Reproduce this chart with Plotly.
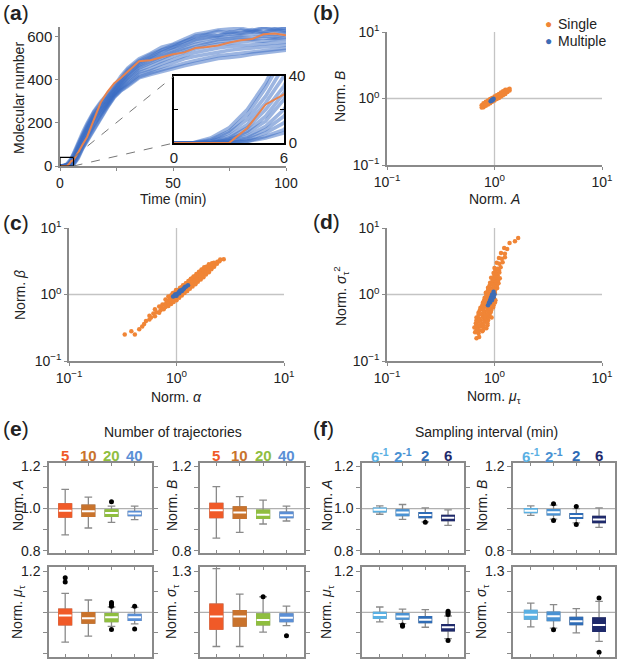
import plotly.graph_objects as go

W, H = 617, 660

# ---------------- (a) trajectories ----------------
time_min = [0, 1, 2, 3, 4, 5, 6, 7, 8, 10, 12, 15, 18, 21, 24, 27, 30, 35, 40, 45,
            50, 55, 60, 65, 70, 75, 80, 85, 90, 95, 100]
multiple_trajs = [
    [0, 0, 3, 9, 20, 36, 58, 84, 108, 156, 198, 255, 298, 334, 372, 418, 455, 498, 522, 552, 566, 590, 612, 622, 632, 636, 640, 628, 645, 638, 644],
    [0, 0, 2, 7, 17, 33, 52, 76, 100, 150, 190, 250, 292, 326, 365, 410, 448, 490, 518, 540, 562, 578, 604, 612, 626, 618, 632, 624, 640, 630, 642],
    [0, 0, 1, 6, 14, 28, 46, 70, 95, 144, 184, 242, 284, 320, 360, 402, 440, 484, 506, 538, 552, 580, 592, 608, 606, 624, 618, 634, 622, 636, 626],
    [0, 0, 1, 4, 11, 24, 40, 63, 88, 136, 176, 236, 276, 314, 355, 395, 430, 478, 505, 528, 550, 566, 588, 598, 606, 612, 615, 624, 620, 626, 628],
    [0, 0, 0, 3, 9, 20, 34, 57, 80, 128, 168, 228, 270, 308, 348, 388, 425, 470, 498, 518, 540, 560, 578, 590, 596, 602, 610, 612, 615, 610, 620],
    [0, 0, 0, 2, 7, 16, 30, 50, 72, 120, 160, 220, 262, 302, 345, 380, 415, 462, 488, 510, 530, 550, 566, 575, 588, 592, 598, 596, 604, 600, 610],
    [0, 0, 0, 2, 6, 13, 26, 45, 68, 115, 154, 214, 258, 298, 340, 375, 410, 455, 478, 502, 522, 540, 556, 568, 578, 585, 590, 588, 595, 592, 598],
    [0, 0, 0, 1, 4, 10, 20, 38, 60, 106, 146, 205, 250, 292, 335, 368, 400, 444, 466, 490, 510, 528, 545, 556, 566, 570, 578, 582, 580, 588, 590],
    [0, 0, 0, 1, 3, 8, 16, 32, 54, 98, 136, 195, 242, 286, 330, 362, 392, 435, 452, 475, 495, 512, 528, 540, 548, 555, 560, 566, 570, 572, 575],
    [0, 0, 0, 0, 2, 6, 12, 26, 46, 92, 128, 186, 236, 282, 325, 357, 384, 426, 442, 462, 482, 498, 510, 520, 530, 538, 544, 550, 556, 558, 562],
    [0, 0, 0, 0, 1, 4, 8, 21, 40, 85, 120, 176, 228, 276, 322, 352, 376, 415, 432, 448, 465, 478, 490, 502, 512, 518, 524, 532, 540, 545, 548],
    [0, 0, 0, 0, 1, 3, 6, 18, 35, 80, 115, 170, 222, 272, 318, 350, 370, 410, 425, 440, 455, 466, 478, 490, 500, 505, 510, 520, 526, 532, 538],
]
single_traj = [0, 0, 0, 0, 9, 23, 29, 45, 62, 100, 135, 215, 295, 345, 385, 410, 440, 487, 492, 505,
               519, 528, 548, 553, 560, 574, 584, 590, 612, 616, 608]

# ---------------- (b)-(d) scatter clouds (x, y) ----------------
b_single_x = [0.76, 0.76, 0.79, 0.79, 0.79, 0.83, 0.83, 0.83, 0.87, 0.87, 0.87, 0.91, 0.91, 0.91,
              0.95, 0.95, 0.95, 1.00, 1.00, 1.00, 1.05, 1.05, 1.05, 1.10, 1.10, 1.10, 1.15, 1.15,
              1.15, 1.20, 1.20, 1.20, 1.26, 1.26, 1.26, 1.32, 1.32, 1.38, 1.38]
b_single_y = [0.73, 0.79, 0.74, 0.79, 0.85, 0.78, 0.83, 0.89, 0.81, 0.87, 0.93, 0.85, 0.91, 0.98,
              0.89, 0.95, 1.02, 0.93, 1.00, 1.07, 0.98, 1.05, 1.12, 1.02, 1.10, 1.17, 1.07, 1.15,
              1.23, 1.12, 1.20, 1.29, 1.17, 1.26, 1.35, 1.25, 1.35, 1.32, 1.40]
b_multi_x = [0.92, 0.94, 0.95, 0.97, 0.96, 0.98]
b_multi_y = [0.91, 0.93, 0.96, 0.97, 0.94, 0.99]

c_single_pts = [
    (0.33, 0.25), (0.38, 0.28), (0.41, 0.25), (0.45, 0.30), (0.48, 0.33),
    (0.50, 0.36), (0.52, 0.40),
    (0.56, 0.42), (0.58, 0.45), (0.56, 0.48),
    (0.63, 0.47), (0.61, 0.52), (0.65, 0.54), (0.63, 0.60),
    (0.69, 0.53), (0.71, 0.58), (0.73, 0.63), (0.69, 0.66), (0.74, 0.71),
    (0.76, 0.60), (0.79, 0.65), (0.78, 0.71), (0.81, 0.76), (0.79, 0.84),
    (0.84, 0.67), (0.85, 0.73), (0.83, 0.79), (0.86, 0.85), (0.84, 0.93),
    (0.89, 0.72), (0.90, 0.78), (0.88, 0.84), (0.91, 0.90), (0.89, 0.97), (0.92, 1.04),
    (0.94, 0.77), (0.95, 0.84), (0.94, 0.91), (0.96, 0.98), (0.94, 1.06),
    (1.00, 0.82), (0.99, 0.89), (1.01, 0.95), (1.00, 1.02), (1.02, 1.10), (0.99, 1.17),
    (1.06, 0.89), (1.05, 0.96), (1.07, 1.03), (1.06, 1.10), (1.05, 1.18), (1.08, 1.26),
    (1.12, 0.97), (1.13, 1.05), (1.11, 1.12), (1.14, 1.20), (1.12, 1.29), (1.15, 1.38),
    (1.19, 1.05), (1.20, 1.13), (1.18, 1.21), (1.21, 1.29), (1.19, 1.38), (1.22, 1.48),
    (1.26, 1.13), (1.27, 1.21), (1.25, 1.30), (1.28, 1.39), (1.26, 1.49), (1.29, 1.59),
    (1.33, 1.22), (1.34, 1.31), (1.32, 1.41), (1.35, 1.51), (1.33, 1.62), (1.36, 1.73),
    (1.41, 1.32), (1.42, 1.42), (1.40, 1.52), (1.43, 1.63), (1.41, 1.75), (1.44, 1.87),
    (1.50, 1.43), (1.51, 1.54), (1.49, 1.65), (1.52, 1.77), (1.50, 1.90), (1.53, 2.03),
    (1.58, 1.55), (1.60, 1.66), (1.57, 1.78), (1.61, 1.91), (1.59, 2.05), (1.62, 2.19),
    (1.68, 1.68), (1.69, 1.80), (1.67, 1.93), (1.70, 2.07), (1.68, 2.22), (1.71, 2.37),
    (1.78, 1.82), (1.79, 1.95), (1.77, 2.09), (1.80, 2.24), (1.78, 2.40), (1.81, 2.56),
    (1.88, 2.00), (1.90, 2.14), (1.87, 2.29), (1.91, 2.45), (1.89, 2.62),
    (2.00, 2.17), (2.01, 2.32), (1.98, 2.48), (2.02, 2.66), (2.00, 2.85),
    (2.11, 2.40), (2.13, 2.57), (2.10, 2.75), (2.14, 2.95),
    (2.24, 2.62), (2.26, 2.81), (2.23, 3.00), (2.38, 2.90), (2.40, 3.10),
    (2.51, 3.16), (2.55, 3.35), (2.75, 3.40),
]
c_multi_pts = [
    (0.93, 0.93), (0.96, 0.96), (0.97, 1.00), (0.99, 1.00), (1.00, 0.96), (1.02, 1.03),
    (1.05, 1.08), (1.06, 1.04), (1.08, 1.15), (1.09, 1.13), (1.12, 1.13), (1.13, 1.18),
    (1.16, 1.20), (1.18, 1.25), (1.20, 1.30), (1.23, 1.32), (1.28, 1.38),
]
d_single_pts = [
    (0.68, 0.22), (0.72, 0.23),
    (0.66, 0.27), (0.71, 0.26), (0.77, 0.28),
    (0.68, 0.29), (0.72, 0.29), (0.78, 0.29),
    (0.65, 0.32), (0.69, 0.31), (0.74, 0.33), (0.79, 0.32), (0.84, 0.31),
    (0.68, 0.345), (0.73, 0.345), (0.79, 0.345), (0.86, 0.345),
    (0.67, 0.37), (0.71, 0.39), (0.76, 0.36), (0.81, 0.39), (0.86, 0.37),
    (0.68, 0.41), (0.74, 0.41), (0.80, 0.41), (0.87, 0.41),
    (0.68, 0.45), (0.72, 0.43), (0.78, 0.46), (0.83, 0.44), (0.88, 0.46), (0.94, 0.45),
    (0.71, 0.49), (0.77, 0.49), (0.83, 0.49), (0.90, 0.49),
    (0.71, 0.53), (0.76, 0.51), (0.81, 0.55), (0.87, 0.52), (0.92, 0.54),
    (0.73, 0.58), (0.79, 0.58), (0.86, 0.58), (0.93, 0.58),
    (0.74, 0.63), (0.79, 0.61), (0.85, 0.65), (0.91, 0.62), (0.97, 0.64),
    (0.77, 0.69), (0.83, 0.69), (0.90, 0.69), (0.98, 0.69),
    (0.78, 0.75), (0.83, 0.75), (0.89, 0.77), (0.95, 0.74), (1.01, 0.76),
    (0.80, 0.82), (0.87, 0.82), (0.94, 0.82), (1.02, 0.82),
    (0.81, 0.89), (0.87, 0.89), (0.93, 0.91), (0.99, 0.88),
    (0.84, 0.97), (0.90, 0.97), (0.98, 0.97),
    (0.83, 1.06), (0.89, 1.03), (0.95, 1.08), (1.01, 1.05),
    (0.87, 1.16), (0.93, 1.16), (1.01, 1.16),
    (0.87, 1.26), (0.93, 1.22), (0.99, 1.29), (1.06, 1.25),
    (0.90, 1.37), (0.97, 1.37), (1.05, 1.37),
    (0.91, 1.50), (0.97, 1.45), (1.03, 1.53), (1.09, 1.48),
    (0.96, 1.63), (1.02, 1.63), (1.08, 1.63),
    (0.93, 1.78), (0.99, 1.73), (1.06, 1.81), (1.12, 1.76),
    (1.00, 1.94), (1.07, 1.94),
    (0.98, 2.11), (1.04, 2.06), (1.11, 2.15),
    (1.02, 2.30), (1.10, 2.30),
    (1.00, 2.51), (1.07, 2.44), (1.14, 2.56),
    (1.05, 2.99), (1.11, 2.90), (1.19, 3.05),
    (1.10, 3.55), (1.17, 3.45), (1.25, 3.62),
    (1.15, 4.22), (1.25, 4.10),
    (1.23, 5.01), (1.31, 4.85),
    (1.38, 5.96), (1.55, 6.30), (1.66, 7.08),
]
d_multi_pts = [
    (0.87, 0.69), (0.89, 0.76), (0.91, 0.76), (0.91, 0.83), (0.95, 0.83),
    (0.93, 0.91), (0.98, 0.91), (0.95, 1.00), (1.00, 1.00), (0.98, 1.10),
]

# ---------------- (e) number of trajectories: box stats ----------------
e_cats = ["5", "10", "20", "40"]
e_colors = ["#f05a28", "#c9732c", "#8fbe3f", "#5a8fd6"]
eA = dict(q1=[0.960, 0.963, 0.963, 0.967], med=[0.990, 0.987, 0.979, 0.976],
          q3=[1.022, 1.016, 0.994, 0.986], lo=[0.876, 0.908, 0.935, 0.948],
          hi=[1.090, 1.054, 1.011, 1.011], ox=[3], oy=[1.032])
eB = dict(q1=[0.957, 0.954, 0.954, 0.957], med=[0.992, 0.981, 0.971, 0.968],
          q3=[1.024, 1.008, 0.992, 0.983], lo=[0.860, 0.887, 0.927, 0.941],
          hi=[1.103, 1.056, 1.040, 1.011], ox=[], oy=[])
eMu = dict(q1=[0.939, 0.947, 0.955, 0.961], med=[0.984, 0.971, 0.976, 0.976],
           q3=[1.016, 0.998, 0.994, 0.990], lo=[0.855, 0.884, 0.931, 0.944],
           hi=[1.092, 1.060, 1.026, 1.024],
           ox=[1, 1, 3, 3, 3, 3, 4, 4], oy=[1.168, 1.148, 1.048, 1.039, 1.030, 0.916, 1.029, 0.918])
eSig = dict(q1=[0.877, 0.900, 0.908, 0.932], med=[0.969, 0.969, 0.944, 0.961],
            q3=[1.060, 1.012, 0.988, 0.988], lo=[0.750, 0.750, 0.855, 0.903],
            hi=[1.320, 1.133, 1.114, 1.046], ox=[1, 3, 4], oy=[1.345, 1.114, 0.828])

# ---------------- (f) sampling interval: box stats ----------------
f_cats = ["6<sup>-1</sup>", "2<sup>-1</sup>", "2", "6"]
f_colors = ["#5ab0e3", "#4a92d3", "#2f6cb6", "#1f2a6b"]
fA = dict(q1=[0.984, 0.967, 0.957, 0.943], med=[0.994, 0.981, 0.970, 0.956],
          q3=[1.002, 0.994, 0.981, 0.968], lo=[0.973, 0.949, 0.937, 0.920],
          hi=[1.013, 1.019, 1.003, 0.994], ox=[3], oy=[0.935])
fB = dict(q1=[0.981, 0.970, 0.954, 0.933], med=[0.990, 0.983, 0.965, 0.948],
          q3=[1.000, 0.995, 0.976, 0.963], lo=[0.968, 0.950, 0.932, 0.911],
          hi=[1.013, 1.016, 1.000, 1.003], ox=[2, 2, 3, 3], oy=[1.022, 0.944, 1.010, 0.925])
fMu = dict(q1=[0.971, 0.967, 0.950, 0.910], med=[0.987, 0.980, 0.964, 0.927],
           q3=[1.000, 0.993, 0.979, 0.940], lo=[0.953, 0.945, 0.927, 0.872],
           hi=[1.026, 1.016, 1.013, 0.982],
           ox=[2, 2, 4, 4, 4, 4], oy=[0.938, 0.932, 1.005, 0.997, 0.989, 0.862])
fSig = dict(q1=[0.951, 0.939, 0.910, 0.861], med=[0.983, 0.971, 0.934, 0.907],
            q3=[1.015, 1.002, 0.963, 0.959], lo=[0.893, 0.885, 0.849, 0.788],
            hi=[1.068, 1.056, 1.027, 1.080], ox=[2, 4, 4], oy=[0.873, 1.105, 0.707])

# ---------------- styling ----------------
TXT = "#222222"
AX = "#8a8a8a"
ORANGE = "#f08536"
BLUE = "#3d6cb5"
FONT = "Liberation Sans, Arial, Helvetica, sans-serif"


def xd(l, r):
    return [l / W, r / W]


def yd(top, bottom):
    return [1 - bottom / H, 1 - top / H]


fig = go.Figure()

# (a) main + inset
for tr in multiple_trajs:
    for xa, ya in (("x", "y"), ("x2", "y2")):
        fig.add_trace(go.Scatter(x=time_min, y=tr, mode="lines", xaxis=xa, yaxis=ya,
                                 line=dict(color="rgba(58,108,196,0.5)", width=3.6),
                                 showlegend=False, hoverinfo="skip"))
for xa, ya in (("x", "y"), ("x2", "y2")):
    fig.add_trace(go.Scatter(x=time_min, y=single_traj, mode="lines", xaxis=xa, yaxis=ya,
                             line=dict(color="#e8834e", width=2), showlegend=False, hoverinfo="skip"))


def scat(pts_x, pts_y, xa, ya, color, size):
    fig.add_trace(go.Scatter(x=pts_x, y=pts_y, mode="markers", xaxis=xa, yaxis=ya,
                             marker=dict(color=color, size=size, line=dict(width=0)),
                             showlegend=False, hoverinfo="skip"))


scat(b_single_x, b_single_y, "x3", "y3", ORANGE, 4.5)
scat(b_multi_x, b_multi_y, "x3", "y3", BLUE, 4.5)
scat([p[0] for p in c_single_pts], [p[1] for p in c_single_pts], "x4", "y4", ORANGE, 4.5)
scat([p[0] for p in c_multi_pts], [p[1] for p in c_multi_pts], "x4", "y4", BLUE, 4.5)
scat([p[0] for p in d_single_pts], [p[1] for p in d_single_pts], "x5", "y5", ORANGE, 4.5)
scat([p[0] for p in d_multi_pts], [p[1] for p in d_multi_pts], "x5", "y5", BLUE, 4.5)


def box_panel(xa, ya, st, colors):
    for i in range(4):
        pos = [i + 1]
        fig.add_trace(go.Box(x=pos, q1=[st["q1"][i]], median=[st["med"][i]], q3=[st["q3"][i]],
                             lowerfence=[st["lo"][i]], upperfence=[st["hi"][i]],
                             width=0.55, whiskerwidth=0.6, fillcolor=colors[i],
                             line=dict(color="#8a8a8a", width=1.3), boxpoints=False,
                             xaxis=xa, yaxis=ya, showlegend=False, hoverinfo="skip"))
        fig.add_trace(go.Box(x=pos, q1=[st["q1"][i]], median=[st["q1"][i]], q3=[st["q3"][i]],
                             lowerfence=[st["q1"][i]], upperfence=[st["q3"][i]],
                             width=0.55, whiskerwidth=0, fillcolor=colors[i],
                             line=dict(color=colors[i], width=1.3), boxpoints=False,
                             xaxis=xa, yaxis=ya, showlegend=False, hoverinfo="skip"))
        fig.add_trace(go.Box(x=pos, q1=[st["med"][i]], median=[st["med"][i]], q3=[st["med"][i]],
                             lowerfence=[st["med"][i]], upperfence=[st["med"][i]],
                             width=0.55, whiskerwidth=0, fillcolor="white",
                             line=dict(color="white", width=2), boxpoints=False,
                             xaxis=xa, yaxis=ya, showlegend=False, hoverinfo="skip"))
    if st["ox"]:
        fig.add_trace(go.Scatter(x=st["ox"], y=st["oy"], mode="markers", xaxis=xa, yaxis=ya,
                                 marker=dict(color="black", size=5), cliponaxis=False,
                                 showlegend=False, hoverinfo="skip"))


box_panel("x6", "y6", eA, e_colors)
box_panel("x7", "y7", eB, e_colors)
box_panel("x8", "y8", eMu, e_colors)
box_panel("x9", "y9", eSig, e_colors)
box_panel("x10", "y10", fA, f_colors)
box_panel("x11", "y11", fB, f_colors)
box_panel("x12", "y12", fMu, f_colors)
box_panel("x13", "y13", fSig, f_colors)

# ---------------- axes ----------------
lay = dict(width=W, height=H, margin=dict(l=0, r=0, t=0, b=0, pad=0, autoexpand=False),
           paper_bgcolor="white", plot_bgcolor="white", template="none",
           font=dict(family=FONT, color=TXT, size=14), showlegend=False, boxmode="overlay")

main_dom_x = xd(60, 286)
main_dom_y = yd(27, 166)
main_rx = [0, 100]
main_ry = [0, 646]
lay["xaxis"] = dict(domain=main_dom_x, range=main_rx, anchor="y", tickvals=[0, 25, 50, 75, 100],
                    ticktext=["0", "", "50", "", "100"], ticks="outside", ticklen=3, tickcolor=AX,
                    showline=True, linecolor=AX, linewidth=1.5, showgrid=False, zeroline=False,
                    tickfont=dict(size=14), automargin=False)
lay["yaxis"] = dict(domain=main_dom_y, range=main_ry, anchor="x", tickvals=[0, 200, 400, 600],
                    ticks="outside", ticklen=3, tickcolor=AX, showline=True, linecolor=AX,
                    linewidth=1.5, showgrid=False, zeroline=False, tickfont=dict(size=15),
                    automargin=False)
ins_dom_x = xd(174, 284)
ins_dom_y = yd(76, 143)
lay["xaxis2"] = dict(domain=ins_dom_x, range=[0, 6], anchor="y2", tickvals=[0, 6], ticks="",
                     showline=True, mirror=True, linecolor="black", linewidth=1.5,
                     showgrid=False, zeroline=False, tickfont=dict(size=15), automargin=False)
lay["yaxis2"] = dict(domain=ins_dom_y, range=[0, 40], anchor="x2", side="right",
                     tickvals=[0, 20, 40], ticktext=["0", "", "40"], ticks="inside", ticklen=4,
                     tickcolor="black", showline=True, mirror="ticks", linecolor="black",
                     linewidth=1.5, showgrid=False, zeroline=False, tickfont=dict(size=15),
                     automargin=False)

log_ticks = dict(type="log", range=[-1, 1], tickvals=[0.1, 1, 10],
                 ticktext=["10<sup>−1</sup>", "10<sup>0</sup>", "10<sup>1</sup>"],
                 ticks="outside", ticklen=3, tickcolor=AX, showline=True, linecolor=AX,
                 linewidth=1.5, showgrid=False, zeroline=False, tickfont=dict(size=14),
                 automargin=False)
for n, dx, dy in ((3, xd(387, 602), yd(32, 165)), (4, xd(69, 284), yd(228, 361)),
                  (5, xd(387, 602), yd(228, 361))):
    lay[f"xaxis{n}"] = dict(log_ticks, domain=dx, anchor=f"y{n}")
    lay[f"yaxis{n}"] = dict(log_ticks, domain=dy, anchor=f"x{n}")

top_dy = yd(463, 553)
bot_dy = yd(567, 657)
box_axes = [
    (6, xd(49, 152), top_dy, [0.3, 4.75], [0.79, 1.215], [0.8, 0.9, 1.0, 1.1, 1.2], ["0.8", "", "1.0", "", "1.2"]),
    (7, xd(200, 304), top_dy, [0.3, 4.75], [0.79, 1.215], [0.8, 0.9, 1.0, 1.1, 1.2], ["0.8", "", "", "", "1.2"]),
    (8, xd(49, 152), bot_dy, [0.3, 4.75], [0.782, 1.221], [0.8, 0.9, 1.0, 1.1, 1.2], ["0.8", "", "", "", "1.2"]),
    (9, xd(200, 304), bot_dy, [0.3, 4.75], [0.673, 1.332], [0.7, 0.85, 1.0, 1.15, 1.3], ["0.7", "", "", "", "1.3"]),
    (10, xd(362, 464), top_dy, [0.22, 4.7], [0.79, 1.215], [0.8, 0.9, 1.0, 1.1, 1.2], ["0.8", "", "1.0", "", "1.2"]),
    (11, xd(513, 615), top_dy, [0.22, 4.7], [0.79, 1.215], [0.8, 0.9, 1.0, 1.1, 1.2], ["0.8", "", "", "", "1.2"]),
    (12, xd(362, 464), bot_dy, [0.22, 4.7], [0.782, 1.221], [0.8, 0.9, 1.0, 1.1, 1.2], ["0.8", "", "", "", "1.2"]),
    (13, xd(513, 615), bot_dy, [0.22, 4.7], [0.673, 1.332], [0.7, 0.85, 1.0, 1.15, 1.3], ["0.7", "", "", "", "1.3"]),
]
shapes = []
for n, dx, dy, rx, ry, tv, tt in box_axes:
    lay[f"xaxis{n}"] = dict(domain=dx, range=rx, anchor=f"y{n}", tickvals=[1, 2, 3, 4],
                            showticklabels=False, ticks="inside", ticklen=3, tickcolor=AX,
                            showline=True, mirror="ticks", linecolor=AX, linewidth=1.5,
                            showgrid=False, zeroline=False, automargin=False)
    lay[f"yaxis{n}"] = dict(domain=dy, range=ry, anchor=f"x{n}", tickvals=tv, ticktext=tt,
                            ticks="outside", ticklen=4, tickcolor=AX, showline=True,
                            mirror="ticks", linecolor=AX, linewidth=1.5, showgrid=False,
                            zeroline=False, tickfont=dict(size=14), automargin=False)
    shapes.append(dict(type="line", xref=f"x{n} domain", yref=f"y{n}", x0=0, x1=1, y0=1, y1=1,
                       line=dict(color="#b0b0b0", width=1.3), layer="below"))

for n in (3, 4, 5):
    shapes.append(dict(type="line", xref=f"x{n}", yref=f"y{n} domain", x0=1, x1=1, y0=0, y1=1,
                       line=dict(color="#c4c4c4", width=1.3), layer="below"))
    shapes.append(dict(type="line", xref=f"x{n} domain", yref=f"y{n}", x0=0, x1=1, y0=1, y1=1,
                       line=dict(color="#c4c4c4", width=1.3), layer="below"))

shapes.append(dict(type="rect", xref="x", yref="y", x0=0, x1=6, y0=0, y1=40,
                   line=dict(color="black", width=1.2)))


def to_main_x(p):
    return main_rx[0] + (p - main_dom_x[0]) / (main_dom_x[1] - main_dom_x[0]) * (main_rx[1] - main_rx[0])


def to_main_y(p):
    return main_ry[0] + (p - main_dom_y[0]) / (main_dom_y[1] - main_dom_y[0]) * (main_ry[1] - main_ry[0])


shapes.append(dict(type="line", xref="x", yref="y", x0=6, y0=40, x1=to_main_x(ins_dom_x[0]),
                   y1=to_main_y(ins_dom_y[1]), line=dict(color="#777777", width=1, dash="dash")))
shapes.append(dict(type="line", xref="x", yref="y", x0=6, y0=0, x1=to_main_x(ins_dom_x[0]),
                   y1=to_main_y(ins_dom_y[0]), line=dict(color="#777777", width=1, dash="dash")))
lay["shapes"] = shapes

# ---------------- text ----------------
anns = []


def ann(text, x, y, size=14, angle=0, color=TXT, xanchor="center"):
    anns.append(dict(text=text, x=x / W, y=1 - y / H, xref="paper", yref="paper",
                     showarrow=False, textangle=angle, xanchor=xanchor, yanchor="middle",
                     font=dict(size=size, color=color)))


for lab, x, y in (("a", 1, 12), ("b", 311, 12), ("c", 1, 222), ("d", 311, 221),
                  ("e", 1, 428), ("f", 311, 428)):
    ann(f"(<b>{lab}</b>)", x, y, size=21, xanchor="left")

ann("Molecular number", 19, 98, angle=-90)
ann("Time (min)", 173, 199)
ann("Norm. <i>B</i>", 340, 97, angle=-90)
ann("Norm. <i>A</i>", 494, 199)
ann("Norm. <i>β</i>", 20, 295, angle=-90)
ann("Norm. <i>α</i>", 176, 397)
ann("Norm. <i>σ</i><sub>τ</sub><sup>2</sup>", 341, 296, angle=-90)
ann("Norm. <i>μ</i><sub>τ</sub>", 494, 397)

ann("●", 548, 24, size=12, color=ORANGE)
ann("Single", 556, 24, xanchor="left")
ann("●", 548, 41, size=12, color=BLUE)
ann("Multiple", 556, 41, xanchor="left")

ann("Number of trajectories", 173, 432)
ann("Sampling interval (min)", 486, 432)

for n, tx in ((6, e_cats), (7, e_cats), (10, f_cats), (11, f_cats)):
    cols = e_colors if n in (6, 7) else f_colors
    for i in range(4):
        anns.append(dict(text=f"<b>{tx[i]}</b>", x=i + 1, y=1 - 455 / H, xref=f"x{n}",
                         yref="paper", showarrow=False, yanchor="middle",
                         font=dict(size=15, color=cols[i])))

for x0 in (18, 327):
    ann("Norm. <i>A</i>", x0, 506, angle=-90)
    ann("Norm. <i>μ</i><sub>τ</sub>", x0, 612, angle=-90)
for x0 in (172, 482):
    ann("Norm. <i>B</i>", x0, 506, angle=-90)
    ann("Norm. <i>σ</i><sub>τ</sub>", x0, 612, angle=-90)

lay["annotations"] = anns
fig.update_layout(**lay)
fig.write_html("out.html", config={"displayModeBar": False},
               post_script="document.body.style.margin='0px';document.body.style.overflow='hidden';")
